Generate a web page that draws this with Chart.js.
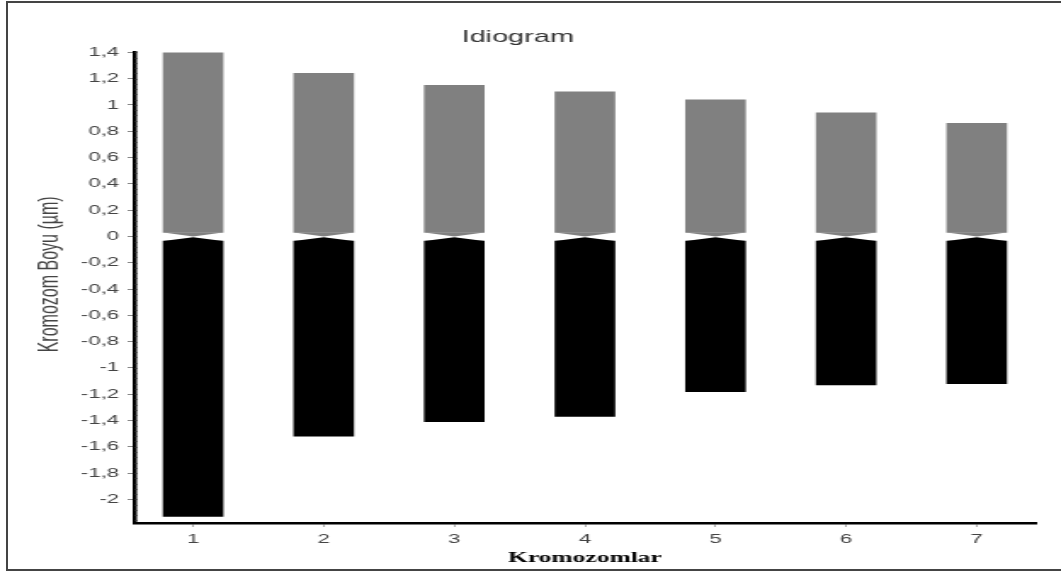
<!DOCTYPE html>
<html>
<head>
<meta charset="utf-8">
<script src="https://cdn.jsdelivr.net/npm/chart.js@4.4.1/dist/chart.umd.min.js"></script>
<style>
html, body { margin: 0; padding: 0; background: #fff; overflow: hidden; }
#frame { position: absolute; left: 6px; top: 1px; width: 1100px; height: 566px; border: 2px solid #444; }
/* the source picture is stretched sideways, so the chart is drawn narrow and widened */
#wrap { position: absolute; left: 0; top: 0; width: 624px; height: 574px; transform: scaleX(1.7003); transform-origin: 0 0; }
</style>
</head>
<body>
<div id="frame"></div>
<div id="wrap"><canvas id="idiogram" width="624" height="574"></canvas></div>
<script>
// chromosome numbers
var chromosomes = [1, 2, 3, 4, 5, 6, 7]
// short arm (p) lengths, um
var shortArm = [1.40, 1.24, 1.15, 1.10, 1.04, 0.94, 0.86]
// long arm (q) lengths, drawn below zero, um
var longArm = [-2.13, -1.52, -1.41, -1.37, -1.18, -1.13, -1.12]

var titleText = 'Idiogram'
var xTitle = 'Kromozomlar'
var yTitle = 'Kromozom Boyu (µm)'

// centromere: each arm stops a little short of 0 and ends in a point
var notch = 0.03

function fmt(v) {
       return String(Math.round(v * 10) / 10).replace('.', ',')
}

// pointed arm ends at the centromere
const centromere = {
       id: 'centromere',
       afterDatasetsDraw(chart) {
              const ctx = chart.ctx
              const y = chart.scales.y
              chart.data.datasets.forEach(function (ds, i) {
                     chart.getDatasetMeta(i).data.forEach(function (bar) {
                            const half = bar.width / 2
                            ctx.save()
                            ctx.beginPath()
                            ctx.moveTo(bar.x - half, bar.base)
                            ctx.lineTo(bar.x + half, bar.base)
                            ctx.lineTo(bar.x, y.getPixelForValue(ds.tip))
                            ctx.closePath()
                            ctx.fillStyle = ds.backgroundColor
                            ctx.fill()
                            ctx.restore()
                     })
              })
       }
}

// small minor ticks along the y axis line
const minorTicks = {
       id: 'minorTicks',
       afterDraw(chart) {
              const ctx = chart.ctx
              const y = chart.scales.y
              const x0 = chart.chartArea.left
              ctx.save()
              ctx.strokeStyle = '#333'
              ctx.lineWidth = 0.6
              for (let v = 1.4; v > y.min; v -= 0.04) {
                     const py = Math.round(y.getPixelForValue(v)) + 0.5
                     ctx.beginPath()
                     ctx.moveTo(x0, py)
                     ctx.lineTo(x0 + 2, py)
                     ctx.stroke()
              }
              ctx.restore()
       }
}

const data = {
       datasets: [{
              label: 'p',
              data: chromosomes.map(function (c, i) { return { x: c, y: [notch, shortArm[i]] } }),
              tip: 0,
              backgroundColor: '#808080',
              borderWidth: 0,
              barThickness: 35,
              grouped: false
       },
       {
              label: 'q',
              data: chromosomes.map(function (c, i) { return { x: c, y: [-notch - 0.005, longArm[i]] } }),
              tip: -0.007,
              backgroundColor: '#000000',
              borderWidth: 0,
              barThickness: 35,
              grouped: false
       }]
}

new Chart(document.getElementById('idiogram'), {
       type: 'bar',
       data: data,
       plugins: [centromere, minorTicks],
       options: {
              responsive: false,
              animation: false,
              layout: { padding: { top: 27, right: 15, bottom: 0, left: 0 } },
              scales: {
                     x: {
                            type: 'linear',
                            offset: false,
                            min: 0.55,
                            max: 7.45,
                            afterFit: function (s) { s.height = 51 },
                            afterBuildTicks: function (s) {
                                   s.ticks = s.ticks.filter(function (t) { return Number.isInteger(t.value) })
                            },
                            ticks: {
                                   stepSize: 1,
                                   includeBounds: false,
                                   autoSkip: false,
                                   padding: 5,
                                   color: '#444',
                                   font: { family: 'Liberation Sans, Arial', size: 13 }
                            },
                            grid: { offset: false, drawOnChartArea: false, drawTicks: true, tickLength: 4, color: '#aaa' },
                            border: { display: true, color: '#000', width: 2.5 },
                            title: {
                                   display: true,
                                   text: xTitle,
                                   color: '#000',
                                   font: { family: 'Liberation Serif, Times New Roman', size: 15, weight: 'bold' },
                                   padding: { top: 0, bottom: 7 }
                            }
                     },
                     y: {
                            min: -2.18,
                            max: 1.4,
                            afterFit: function (s) { s.width = 79 },
                            afterBuildTicks: function (s) {
                                   s.ticks = s.ticks.filter(function (t) {
                                          return Math.abs(t.value * 5 - Math.round(t.value * 5)) < 1e-6
                                   })
                            },
                            ticks: {
                                   stepSize: 0.2,
                                   autoSkip: false,
                                   padding: 5,
                                   color: '#444',
                                   font: { family: 'Liberation Sans, Arial', size: 13 },
                                   callback: function (v) { return fmt(v) }
                            },
                            grid: { drawOnChartArea: false, drawTicks: true, tickLength: 4, color: '#888' },
                            border: { display: true, color: '#000', width: 2.5 },
                            title: {
                                   display: true,
                                   // leading spaces lift the label a little above the axis middle, as in the source
                                   text: '      ' + yTitle,
                                   color: '#444',
                                   font: { family: 'Liberation Sans, Arial', size: 16 },
                                   padding: { top: 20, bottom: 0 }
                            }
                     }
              },
              plugins: {
                     legend: { display: false },
                     tooltip: { enabled: false },
                     title: {
                            display: true,
                            text: titleText,
                            color: '#333',
                            font: { family: 'Liberation Sans, Arial', size: 17, weight: 'normal' },
                            padding: { top: 0, bottom: 5 }
                     }
              }
       }
})
</script>
</body>
</html>
